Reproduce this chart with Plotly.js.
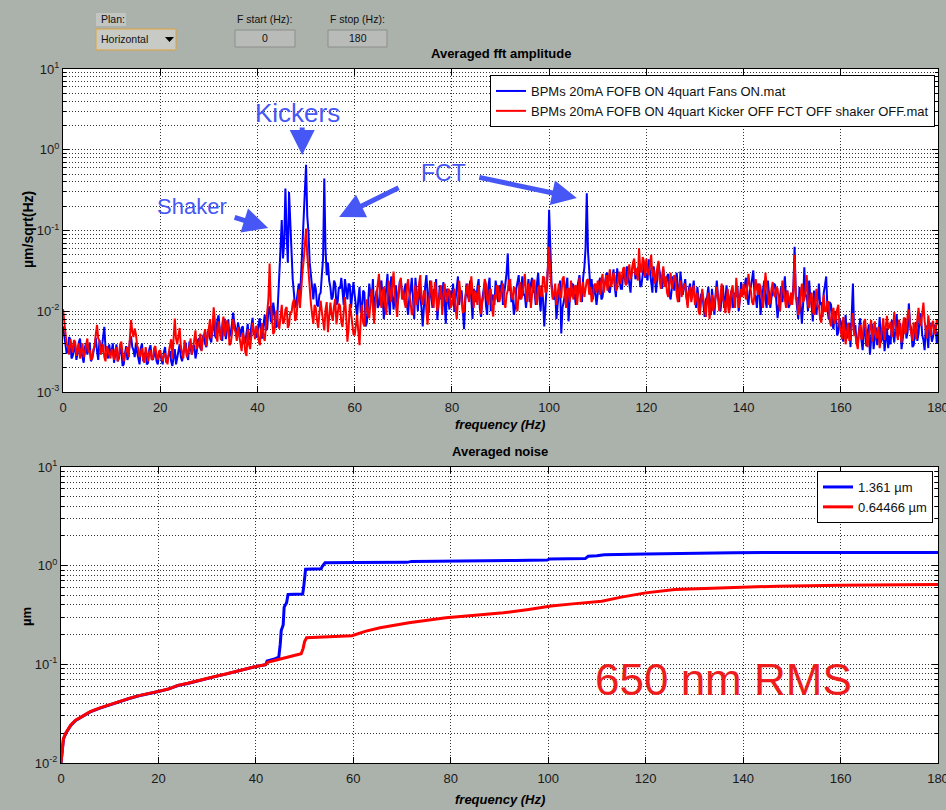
<!DOCTYPE html>
<html>
<head>
<meta charset="utf-8">
<script src="https://cdn.plot.ly/plotly-3.0.1.min.js"></script>
<style>
html, body { margin: 0; padding: 0; background: #abb1ab; }
#chart { width: 946px; height: 810px; }
</style>
</head>
<body>
<div id="chart"></div>
<script>
// ---- Averaged FFT amplitude: 0.25 Hz bins from 0 to 180 Hz, values in 1e-3 µm/sqrt(Hz) ----
// one row per 10 Hz
const fftStartHz = 0;
const fftStepHz = 0.25;

const fftBlue = [
  6.5, 5.0, 4.2, 3.0, 3.3, 4.8, 4.5, 2.6, 2.8, 3.4, 3.9, 2.5, 3.0, 4.1, 4.6, 3.2, 2.7, 2.3, 3.6, 4.0, 2.9, 3.5, 4.1, 2.4, 2.6, 3.1, 3.8, 4.7, 3.2, 2.5, 4.4, 3.3, 3.6, 4.9, 6.4, 3.5, 3.1, 2.6, 3.9, 3.0,
  3.2, 4.0, 2.3, 2.9, 3.9, 2.4, 2.6, 3.5, 3.4, 2.1, 2.2, 3.0, 3.7, 2.5, 2.8, 4.3, 4.9, 3.6, 3.3, 2.7, 4.1, 3.1, 2.6, 2.2, 3.5, 4.0, 2.4, 2.9, 3.1, 2.2, 2.3, 3.4, 3.8, 2.6, 2.5, 3.0, 3.3, 2.4, 2.2, 2.9,
  3.0, 2.5, 2.2, 3.1, 3.6, 2.3, 2.5, 2.9, 3.2, 2.4, 2.1, 2.7, 3.4, 2.2, 2.6, 3.3, 3.9, 2.7, 2.4, 3.0, 3.5, 4.1, 2.8, 2.5, 4.2, 3.3, 2.9, 3.7, 3.8, 2.6, 3.1, 4.4, 4.6, 3.5, 3.3, 4.8, 5.2, 3.9, 3.6, 5.5,
  5.8, 4.6, 4.1, 6.3, 7.4, 5.0, 4.6, 7.8, 8.9, 6.0, 5.2, 4.3, 6.8, 8.1, 4.5, 5.7, 7.9, 4.8, 5.4, 6.9, 9.6, 7.2, 6.1, 4.9, 7.3, 5.5, 4.8, 6.2, 6.5, 3.9, 4.2, 5.3, 7.0, 4.4, 4.9, 6.6, 8.3, 5.1, 5.6, 4.7,
  5.4, 7.0, 8.2, 4.9, 4.6, 6.8, 9.1, 5.8, 6.0, 10.4, 11.5, 7.6, 7.2, 12.8, 9.8, 6.3, 6.5, 14, 25, 60, 135, 45, 70, 330, 90, 40, 300, 110, 48, 25, 17, 11, 12.5, 18, 22, 14, 30, 55, 120, 200,
  650, 150, 95, 40, 26, 18, 14, 22, 19, 12, 11.5, 16, 17, 28, 45, 440, 60, 28, 40, 24, 20, 14, 15, 24, 22, 12, 13, 20, 19, 26, 16, 12, 25, 18, 14, 22, 21, 11, 17, 23,
  16, 11, 8.5, 14, 20, 9.5, 11, 18, 17, 6.5, 7.2, 12, 22, 16, 13, 25, 9.5, 14, 18, 11, 12, 21, 24, 15, 8.0, 13, 19, 29, 14, 9.0, 27, 17, 10.5, 15, 21, 12, 15, 23, 25, 16,
  14, 19, 22, 12, 9.0, 15, 18, 26, 12, 8.0, 26, 17, 10, 21, 16, 11, 6.5, 13, 20, 28, 13, 9.5, 24, 16, 11, 19, 17, 25, 7.8, 12, 21, 14, 15, 23, 12, 7.0, 19, 14, 10.5, 18,
  15, 22, 9.8, 14, 21, 27, 12, 17, 18, 10, 6.0, 13, 22, 16, 14, 24, 11, 8.0, 19, 15, 13, 20, 25, 11, 8.5, 14, 17, 23, 12, 9.0, 20, 26, 10, 15, 16, 12, 24, 18, 13, 21,
  17, 24, 12, 16, 22, 30, 52, 18, 20, 13, 15, 9.0, 11, 19, 23, 28, 14, 20, 27, 16, 16, 11, 19, 25, 13, 22, 26, 17, 18, 12, 22, 30, 15, 10, 21, 14, 6.5, 12, 20, 35,
  180, 40, 22, 15, 14, 19, 8.0, 12, 18, 24, 5.3, 11, 13, 17, 20, 26, 7.5, 14, 16, 22, 21, 15, 12, 19, 24, 28, 17, 13, 26, 35, 60, 290, 55, 30, 19, 25, 14, 21, 17, 12,
  18, 23, 26, 14, 15, 21, 22, 29, 30, 18, 17, 24, 25, 33, 20, 15, 34, 26, 24, 19, 19, 30, 28, 22, 36, 27, 22, 17, 31, 38, 40, 25, 27, 35, 33, 20, 21, 29, 38, 26,
  30, 24, 44, 31, 22, 17, 36, 28, 17, 25, 40, 30, 25, 19, 33, 22, 20, 27, 29, 16, 14, 21, 27, 18, 23, 30, 19, 13, 31, 22, 16, 20, 25, 15, 12, 19, 22, 14, 18, 24,
  14, 11, 20, 13, 10, 16, 17, 12, 8.5, 14, 15, 20, 12, 9.0, 19, 13, 9.0, 16, 24, 15, 13, 10, 16, 21, 11, 14, 21, 12, 9.5, 15, 18, 11, 12, 17, 15, 20, 10, 14, 23, 16,
  17, 21, 26, 15, 12, 18, 20, 25, 32, 16, 15, 11, 22, 18, 9.0, 14, 19, 24, 14, 11, 24, 17, 11, 15, 17, 22, 21, 13, 8.2, 12, 16, 20, 13, 18, 27, 14, 18, 11, 12, 16,
  14, 20, 63, 16, 11, 8.0, 20, 13, 7.0, 12, 35, 15, 16, 10, 24, 14, 12, 7.5, 18, 11, 9.0, 14, 22, 12, 13, 8.5, 17, 21, 27, 11, 8.0, 13, 12, 7.0, 6.0, 9.5, 10, 5.0, 5.5, 8.0,
  7.5, 5.3, 4.2, 6.1, 9.0, 4.6, 5.5, 7.2, 3.6, 8.0, 22, 5.4, 6.8, 3.9, 4.0, 5.9, 8.2, 4.4, 3.3, 5.6, 6.5, 3.7, 4.8, 6.9, 2.9, 4.5, 7.0, 3.4, 5.2, 6.3, 3.8, 5.0, 8.5, 4.1, 4.5, 6.6, 3.2, 4.7, 6.2, 3.5,
  5.0, 3.9, 7.8, 5.4, 4.1, 6.2, 9.2, 4.7, 5.8, 7.1, 3.4, 4.9, 6.9, 8.3, 4.6, 5.5, 12.5, 7.0, 6.0, 3.6, 3.8, 5.7, 7.4, 4.3, 5.3, 9.4, 8.6, 5.1, 4.4, 3.3, 6.7, 5.2, 3.5, 7.3, 5.9, 4.2, 4.9, 6.8, 6.4, 4.0, 5.6
];

const fftRed = [
  10.6, 7.0, 5.5, 3.9, 3.7, 2.9, 4.5, 3.6, 3.1, 4.4, 4.2, 2.8, 3.4, 4.0, 2.6, 3.2, 4.0, 2.7, 3.0, 3.8, 4.6, 3.1, 3.3, 2.5, 2.6, 3.4, 3.6, 5.2, 6.8, 4.6, 4.3, 2.9, 3.2, 3.9, 2.7, 2.4, 3.7, 3.3, 3.0, 2.6,
  3.4, 2.8, 2.5, 3.3, 3.6, 2.4, 2.8, 3.9, 4.2, 3.0, 2.4, 2.9, 3.2, 3.6, 2.7, 4.5, 7.8, 5.6, 4.8, 6.1, 5.2, 3.8, 3.4, 2.7, 3.0, 3.5, 2.5, 2.3, 3.6, 2.9, 2.4, 3.1, 3.3, 2.5, 2.6, 3.5, 3.7, 2.8, 2.5, 3.2,
  3.3, 2.7, 2.4, 2.9, 3.0, 2.5, 2.2, 3.1, 3.7, 4.5, 2.6, 5.5, 8.1, 4.6, 3.9, 5.0, 6.2, 3.6, 3.0, 2.6, 4.4, 3.5, 2.7, 3.2, 3.6, 4.6, 2.9, 3.4, 4.9, 5.8, 3.4, 3.8, 4.1, 5.3, 3.2, 4.4, 5.0, 6.0, 3.7, 4.8,
  6.9, 8.0, 4.6, 6.3, 11.2, 7.4, 5.1, 4.2, 7.5, 5.6, 4.4, 6.9, 8.6, 4.9, 5.8, 7.7, 6.4, 3.8, 4.0, 5.2, 8.0, 6.1, 5.5, 4.3, 6.3, 5.0, 3.9, 3.2, 5.4, 4.6, 3.1, 2.8, 6.0, 3.9, 3.4, 5.1, 7.2, 5.7, 4.5, 6.6,
  6.0, 4.4, 3.8, 5.9, 7.1, 4.8, 4.3, 6.6, 9.0, 14, 39, 12, 8.4, 5.2, 5.6, 9.3, 10.2, 6.8, 6.1, 8.7, 12.0, 7.0, 7.4, 10.5, 11.3, 6.2, 6.8, 9.9, 9.5, 12.5, 14.0, 7.6, 8.2, 13.0, 18.5, 11.0, 22, 30, 42, 65,
  106, 50, 30, 18, 12.5, 9.0, 7.0, 12.0, 11.0, 7.8, 6.2, 9.5, 13.5, 10.0, 8.1, 5.8, 10.4, 13.0, 5.5, 8.6, 12.8, 9.2, 7.6, 11.5, 14.2, 6.9, 8.8, 12.4, 11.6, 7.3, 6.4, 10.2, 15.0, 9.0, 4.2, 6.0, 12.3, 9.6, 7.1, 5.2,
  5.0, 7.5, 9.0, 5.6, 3.8, 8.0, 12, 7.2, 6.5, 10.5, 14, 9.0, 8.2, 13, 19, 11, 7.0, 12, 16, 24, 29, 15, 11, 17, 20, 12, 9.0, 15, 24, 18, 13, 21, 31, 16, 12, 8.5, 17, 22, 26, 14,
  18, 13, 11, 20, 25, 16, 13, 9.0, 9.5, 15, 21, 12, 15, 22, 28, 14, 12, 18, 17, 10, 6.8, 13, 19, 24, 14, 11, 23, 17, 10, 13, 16, 21, 9.0, 14, 22, 16, 13, 19, 18, 11,
  12, 16, 19, 11, 8.0, 14, 24, 17, 14, 9.5, 10, 15, 18, 22, 13, 17, 27, 15, 11, 18, 16, 12, 21, 14, 9.2, 13, 15, 25, 22, 14, 12, 18, 19, 11, 8.6, 16, 14, 21, 20, 13,
  15, 19, 22, 13, 11, 16, 18, 24, 25, 15, 14, 20, 19, 12, 10, 17, 23, 14, 16, 21, 29, 17, 13, 22, 20, 11, 17, 24, 24, 14, 12, 19, 21, 16, 15, 27, 26, 17, 18, 30,
  63, 28, 20, 14, 16, 22, 12, 18, 22, 15, 15, 25, 27, 16, 11, 19, 19, 13, 24, 17, 14, 20, 21, 12, 17, 26, 13, 18, 23, 15, 18, 24, 25, 16, 20, 13, 15, 21, 22, 17,
  24, 19, 16, 25, 29, 17, 21, 28, 18, 23, 33, 20, 23, 30, 27, 18, 19, 26, 31, 22, 26, 34, 35, 21, 22, 30, 38, 25, 29, 40, 45, 28, 34, 24, 60, 33, 30, 47, 42, 27,
  45, 31, 28, 38, 50, 27, 33, 22, 25, 35, 42, 24, 19, 28, 36, 20, 27, 17, 15, 23, 30, 19, 22, 28, 26, 16, 13, 19, 24, 15, 18, 22, 21, 14, 11, 17, 20, 13, 16, 21,
  12, 15, 17, 10, 9.0, 13, 19, 14, 11, 8.5, 14, 17, 8.0, 12, 16, 10, 12, 15, 20, 13, 10, 16, 22, 14, 13, 9.5, 15, 19, 9.5, 12, 18, 21, 14, 11, 26, 17, 11, 14, 19, 15,
  22, 17, 14, 20, 29, 21, 18, 13, 12, 16, 25, 19, 16, 22, 20, 14, 11, 17, 30, 21, 17, 12, 13, 19, 23, 16, 15, 20, 19, 13, 10, 15, 24, 18, 14, 11, 18, 15, 12, 17,
  12, 18, 50, 14, 15, 9.0, 10, 16, 22, 13, 14, 19, 28, 12, 11, 15, 17, 10, 9.0, 14, 19, 11, 12, 8.0, 7.2, 12, 16, 10, 10, 13, 13, 7.5, 6.5, 9.8, 11, 7.0, 8.0, 10.5, 12, 6.4,
  5.8, 4.5, 8.5, 6.0, 3.9, 5.4, 7.2, 4.3, 4.6, 6.9, 9.5, 5.1, 5.2, 4.0, 3.4, 5.6, 6.8, 4.4, 4.9, 7.3, 8.0, 5.0, 3.6, 4.8, 6.2, 7.8, 4.2, 5.5, 7.5, 4.6, 5.0, 6.4, 3.5, 4.7, 6.5, 8.2, 4.4, 5.8, 8.8, 6.1,
  6.3, 7.4, 4.8, 6.1, 9.8, 6.7, 5.5, 4.4, 7.9, 5.8, 4.1, 6.5, 8.4, 5.2, 6.0, 8.8, 10.5, 6.4, 5.2, 4.3, 7.3, 5.9, 4.5, 8.1, 11.0, 7.2, 6.6, 9.3, 12.8, 7.5, 5.7, 4.6, 8.9, 6.2, 4.9, 7.0, 7.6, 5.3, 5.4, 7.9, 6.8
];

// ---- Averaged (integrated) noise, µm ----
const noiseFreqBlue = [0, 0.2, 0.5, 1, 2, 3, 4, 5, 6, 8,
  10, 12, 14, 16, 18, 20, 22, 24, 26, 28,
  30, 32, 34, 36, 38, 40, 42, 42.3, 44, 44.7,
  45.0, 45.2, 45.6, 45.8, 46.3, 46.6, 49.6, 49.8, 50.2, 53.4,
  53.6, 54.2, 60, 71, 72, 92, 93, 99.8, 100.3, 107.6,
  108.2, 110, 111.5, 120, 125, 137, 138, 180];
const noiseBlue = [0.010, 0.0127, 0.0175, 0.020, 0.024, 0.027, 0.029, 0.031, 0.033, 0.036,
  0.039, 0.042, 0.045, 0.048, 0.050, 0.053, 0.056, 0.061, 0.064, 0.068,
  0.072, 0.076, 0.080, 0.085, 0.090, 0.095, 0.099, 0.108, 0.114, 0.118,
  0.16, 0.22, 0.25, 0.38, 0.42, 0.51, 0.515, 0.60, 0.92, 0.93,
  0.98, 1.07, 1.075, 1.08, 1.105, 1.11, 1.13, 1.14, 1.17, 1.18,
  1.245, 1.26, 1.29, 1.31, 1.32, 1.33, 1.355, 1.361];

const noiseFreqRed = [0, 0.2, 0.5, 1, 2, 3, 4, 5, 6, 8,
  10, 12, 14, 16, 18, 20, 22, 24, 26, 28,
  30, 32, 34, 36, 38, 40, 42, 42.4, 44, 46,
  48, 49.3, 49.7, 50.0, 50.4, 55, 59.7, 62.6, 65.5, 71.4,
  79, 85, 90.8, 96, 100.6, 105, 111, 115, 120, 126,
  133.7, 147, 160, 180];
const noiseRed = [0.010, 0.0128, 0.0177, 0.0202, 0.0243, 0.0272, 0.0292, 0.0312, 0.0332, 0.0362,
  0.0392, 0.0422, 0.0452, 0.0482, 0.0502, 0.0532, 0.0562, 0.0612, 0.0642, 0.0682,
  0.0722, 0.0762, 0.0802, 0.0852, 0.0902, 0.0952, 0.0992, 0.105, 0.110, 0.116,
  0.122, 0.128, 0.145, 0.170, 0.186, 0.189, 0.195, 0.217, 0.235, 0.264,
  0.296, 0.315, 0.333, 0.36, 0.39, 0.41, 0.437, 0.48, 0.53, 0.574,
  0.594, 0.62, 0.635, 0.6447];

const seriesNames = [
  'BPMs 20mA FOFB ON 4quart Fans ON.mat',
  'BPMs 20mA FOFB ON 4quart Kicker OFF FCT OFF shaker OFF.mat'
];
const rmsNames = ['1.361 µm', '0.64466 µm'];
const freqTicks = [0, 20, 40, 60, 80, 100, 120, 140, 160, 180];

// ---- page geometry helpers (pixels -> paper fractions) ----
const W = 946, H = 810;
const px = x => x / W;
const py = y => 1 - y / H;

const FONT = 'Liberation Sans, Arial, Helvetica, sans-serif';
const GRID = 'rgba(0,0,0,0.8)';
const GRID_DASH = '1px,2px';
const BLUE = '#0000ff';
const RED = '#ff0000';
const NOTE_BLUE = '#4657f5';

function logAxis(lo, hi, domain, anchor) {
  const vals = [], text = [], minorVals = [];
  for (let e = lo; e <= hi; e++) {
    vals.push(Math.pow(10, e));
    text.push('10<sup>' + e + '</sup>');
    if (e < hi) for (let k = 2; k <= 9; k++) minorVals.push(k * Math.pow(10, e));
  }
  return {
    type: 'log', range: [lo, hi], domain: domain, anchor: anchor,
    tickmode: 'array', tickvals: vals, ticktext: text,
    ticks: 'inside', ticklen: 6, tickcolor: '#000', tickwidth: 1,
    showline: true, linecolor: '#000', linewidth: 1, mirror: 'ticks',
    showgrid: true, gridcolor: GRID, griddash: GRID_DASH, gridwidth: 1,
    zeroline: false, fixedrange: true,
    tickfont: { family: FONT, size: 13, color: '#1a1a1a' },
    minor: {
      tickmode: 'array', tickvals: minorVals,
      ticks: 'inside', ticklen: 3, tickcolor: '#000',
      showgrid: true, gridcolor: GRID, griddash: GRID_DASH, gridwidth: 1
    }
  };
}

function freqAxis(domain, anchor) {
  return {
    range: [0, 180], domain: domain, anchor: anchor,
    tickmode: 'array', tickvals: freqTicks, ticktext: freqTicks.map(String),
    ticks: 'inside', ticklen: 6, tickcolor: '#000', tickwidth: 1,
    showline: true, linecolor: '#000', linewidth: 1, mirror: 'ticks',
    showgrid: true, gridcolor: GRID, griddash: GRID_DASH, gridwidth: 1,
    zeroline: false, fixedrange: true, ticklabelstandoff: 3,
    ticklabeloverflow: 'allow',
    tickfont: { family: FONT, size: 13, color: '#1a1a1a' }
  };
}

const traces = [
  { type: 'scatter', mode: 'lines', name: seriesNames[0],
    x0: fftStartHz, dx: fftStepHz, y: fftBlue.map(v => v / 1000),
    xaxis: 'x', yaxis: 'y', legend: 'legend',
    line: { color: BLUE, width: 2 } },
  { type: 'scatter', mode: 'lines', name: seriesNames[1],
    x0: fftStartHz, dx: fftStepHz, y: fftRed.map(v => v / 1000),
    xaxis: 'x', yaxis: 'y', legend: 'legend',
    line: { color: RED, width: 2 } },
  { type: 'scatter', mode: 'lines', name: rmsNames[0],
    x: noiseFreqBlue, y: noiseBlue,
    xaxis: 'x2', yaxis: 'y2', legend: 'legend2',
    line: { color: BLUE, width: 3 } },
  { type: 'scatter', mode: 'lines', name: rmsNames[1],
    x: noiseFreqRed, y: noiseRed,
    xaxis: 'x2', yaxis: 'y2', legend: 'legend2',
    line: { color: RED, width: 3 } }
];

function paperText(text, x, y, opts) {
  return Object.assign({
    text: text, xref: 'paper', yref: 'paper', x: px(x), y: py(y),
    xanchor: 'center', yanchor: 'middle', showarrow: false,
    font: { family: FONT, size: 13, color: '#000' }
  }, opts || {});
}

function arrow(x, y, ax, ay) {
  return { text: '', xref: 'x', yref: 'y', x: x, y: y, ax: ax, ay: ay,
    showarrow: true, arrowhead: 2, arrowsize: 1, arrowwidth: 5,
    arrowcolor: NOTE_BLUE, standoff: 0 };
}

function note(text, x, y, size) {
  return { text: text, xref: 'x', yref: 'y', x: x, y: y, showarrow: false,
    xanchor: 'center', yanchor: 'middle',
    font: { family: FONT, size: size, color: NOTE_BLUE } };
}

const ctrlFont = { family: FONT, size: 10.5, color: '#111' };

const annotations = [
  // control strip
  paperText('Plan:', 99, 19.5, { xanchor: 'left', font: ctrlFont }),
  paperText('Horizontal', 99, 39.5, { xanchor: 'left', font: ctrlFont }),
  paperText('F start (Hz):', 235, 19.5, { xanchor: 'left', font: ctrlFont }),
  paperText('0', 265, 38.5, { font: ctrlFont }),
  paperText('F stop (Hz):', 328, 19.5, { xanchor: 'left', font: ctrlFont }),
  paperText('180', 357.5, 38.5, { font: ctrlFont }),
  // subplot titles and axis labels
  paperText('<b>Averaged fft amplitude</b>', 500.5, 53),
  paperText('<b>Averaged noise</b>', 499.5, 451),
  paperText('<b><i>frequency (Hz)</i></b>', 500, 424),
  paperText('<b><i>frequency (Hz)</i></b>', 500, 799),
  paperText('<b>µm/sqrt(Hz)</b>', 28, 230, { textangle: -90, font: { family: FONT, size: 14, color: '#000' } }),
  paperText('<b>µm</b>', 26, 617, { textangle: -90 }),
  // callouts on the spectrum
  note('Kickers', 48.3, 0.455, 26),
  note('Shaker', 26.5, -0.697, 22),
  note('FCT', 78.2, -0.288, 23),
  arrow(49.2, -0.065, 0, -29),
  arrow(42.2, -0.969, -35, -11),
  arrow(56.8, -0.833, 61, -30),
  arrow(105.7, -0.598, -99, -21),
  // RMS callout on the integrated noise
  { text: '650 nm RMS', xref: 'x2', yref: 'y2', x: 135.9, y: -1.158, showarrow: false,
    xanchor: 'center', yanchor: 'middle',
    font: { family: FONT, size: 44, color: '#ee1c1c' } }
];

const shapes = [
  { type: 'rect', xref: 'paper', yref: 'paper', x0: px(96), x1: px(126), y0: py(26), y1: py(13),
    fillcolor: '#c2c5c1', line: { width: 0 } },
  { type: 'rect', xref: 'paper', yref: 'paper', x0: px(96), x1: px(176), y0: py(50), y1: py(29),
    fillcolor: '#c8cbc5', line: { color: '#e0a23a', width: 1 } },
  { type: 'path', xref: 'paper', yref: 'paper',
    path: `M ${px(165)} ${py(37)} L ${px(174)} ${py(37)} L ${px(169.5)} ${py(42)} Z`,
    fillcolor: '#000', line: { width: 0 } },
  { type: 'rect', xref: 'paper', yref: 'paper', x0: px(235), x1: px(295), y0: py(47), y1: py(30),
    fillcolor: '#b8bbb8', line: { color: '#8c8f8c', width: 1 } },
  { type: 'rect', xref: 'paper', yref: 'paper', x0: px(328), x1: px(387), y0: py(47), y1: py(30),
    fillcolor: '#b8bbb8', line: { color: '#8c8f8c', width: 1 } }
];

const legendBase = {
  xanchor: 'right', yanchor: 'top', bgcolor: '#ffffff',
  bordercolor: '#000', borderwidth: 1, tracegroupgap: 0,
  font: { family: FONT, size: 13, color: '#111' }
};

const layout = {
  width: W, height: H, autosize: false,
  margin: { l: 0, r: 0, t: 0, b: 0, pad: 0 },
  paper_bgcolor: '#abb1ab', plot_bgcolor: '#ffffff',
  showlegend: true,
  xaxis: freqAxis([px(63), px(938)], 'y'),
  yaxis: logAxis(-3, 1, [py(392), py(69)], 'x'),
  xaxis2: freqAxis([px(61), px(938)], 'y2'),
  yaxis2: logAxis(-2, 1, [py(763), py(467)], 'x2'),
  legend: Object.assign({ x: px(935), y: py(75) }, legendBase),
  legend2: Object.assign({ x: px(933), y: py(471) }, legendBase),
  annotations: annotations,
  shapes: shapes
};

Plotly.newPlot('chart', traces, layout, { displayModeBar: false, staticPlot: true });
</script>
</body>
</html>
